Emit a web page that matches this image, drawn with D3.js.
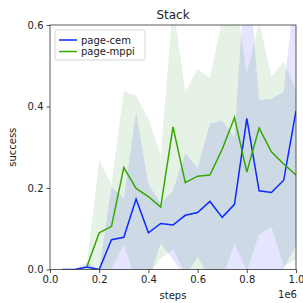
<!DOCTYPE html>
<html><head><meta charset="utf-8">
<script src="https://cdn.jsdelivr.net/npm/d3@7"></script>
<style>body{margin:0;background:#fff}svg{display:block}text{font-family:"DejaVu Sans",sans-serif;fill:#222}</style>
</head><body><svg id="c" width="303" height="303"></svg>
<script>
const steps = [0.05,0.1,0.15,0.2,0.25,0.3,0.35,0.4,0.45,0.5,0.55,0.6,0.65,0.7,0.75,0.8,0.85,0.9,0.95,1.0];
const cemMean = [0,0,0.006,0,0.073,0.079,0.173,0.09,0.113,0.109,0.133,0.14,0.167,0.128,0.16,0.371,0.193,0.189,0.219,0.389];
const cemStd  = [0,0,0.012,0,0.13,0.096,0.212,0.12,0.049,0.085,0.152,0.109,0.191,0.237,0.165,0.42,0.223,0.23,0.217,0.33];
const mppiSteps = [0.15,0.2,0.25,0.3,0.35,0.4,0.45,0.5,0.55,0.6,0.65,0.7,0.75,0.8,0.85,0.9,0.95,1.0];
const mppiMean = [0.007,0.09,0.106,0.25,0.199,0.179,0.153,0.35,0.213,0.229,0.232,0.295,0.373,0.239,0.347,0.289,0.259,0.232];
const mppiStd  = [0.007,0.179,0.103,0.188,0.227,0.191,0.126,0.3,0.223,0.263,0.237,0.32,0.309,0.243,0.261,0.184,0.251,0.208];
const xTicks = [0,0.2,0.4,0.6,0.8,1.0];
const yTicks = [0,0.2,0.4,0.6];
const seriesNames = ["page-cem","page-mppi"];
const lineColors = ["#0a28ff","#33a800"];
const fillColors = ["#0000ff","#008000"];

const svg = d3.select("#c");
const L=50,R=296,T=25,B=269.5;
const x = d3.scaleLinear().domain([0,1]).range([L,R]);
const y = d3.scaleLinear().domain([0,0.6]).range([B,T]);

svg.append("defs").append("clipPath").attr("id","clip")
  .append("rect").attr("x",L).attr("y",T).attr("width",R-L).attr("height",B-T);

const series = [
  {name:seriesNames[0], xs:steps, m:cemMean, s:cemStd},
  {name:seriesNames[1], xs:mppiSteps, m:mppiMean, s:mppiStd}
];
const g = svg.append("g").attr("clip-path","url(#clip)");
series.forEach((S,i)=>{
  const pts = S.xs.map((v,j)=>({x:v,m:S.m[j],s:S.s[j]}));
  g.append("path").datum(pts)
    .attr("d", d3.area().x(d=>x(d.x)).y0(d=>y(d.m-d.s)).y1(d=>y(d.m+d.s)))
    .attr("fill",fillColors[i]).attr("fill-opacity",0.1);
});
series.forEach((S,i)=>{
  const pts = S.xs.map((v,j)=>({x:v,m:S.m[j]}));
  g.append("path").datum(pts)
    .attr("d", d3.line().x(d=>x(d.x)).y(d=>y(d.m)))
    .attr("fill","none").attr("stroke",lineColors[i]).attr("stroke-width",1.5);
});

// axes
const xa = svg.append("g").attr("transform",`translate(0,${B})`)
  .call(d3.axisBottom(x).tickValues(xTicks).tickFormat(d3.format(".1f")).tickSize(3.5).tickPadding(3));
const ya = svg.append("g").attr("transform",`translate(${L},0)`)
  .call(d3.axisLeft(y).tickValues(yTicks).tickFormat(d3.format(".1f")).tickSize(3.5).tickPadding(3));
[xa,ya].forEach(a=>{
  a.selectAll("text").attr("font-size",10).style("fill","#222").attr("font-family","DejaVu Sans");
  a.selectAll("line").attr("stroke","#222").attr("stroke-width",0.8);
  a.select(".domain").remove();
});
svg.append("rect").attr("x",L).attr("y",T).attr("width",R-L).attr("height",B-T)
  .attr("fill","none").attr("stroke","#333").attr("stroke-width",0.8);

svg.append("text").attr("x",(L+R)/2).attr("y",19).attr("text-anchor","middle").attr("font-size",12).text("Stack");
svg.append("text").attr("x",(L+R)/2).attr("y",299).attr("text-anchor","middle").attr("font-size",10).text("steps");
svg.append("text").attr("x",R+1).attr("y",298).attr("text-anchor","end").attr("font-size",10).text("1e6");
svg.append("text").attr("transform",`translate(16,${(T+B)/2}) rotate(-90)`).attr("text-anchor","middle").attr("font-size",10).text("success");

// legend
const lg = svg.append("g");
lg.append("rect").attr("x",55).attr("y",30).attr("width",90).attr("height",30).attr("rx",2)
  .attr("fill","#fff").attr("fill-opacity",0.8).attr("stroke","#ccc").attr("stroke-width",0.8);
seriesNames.forEach((n,i)=>{
  const yy = 40 + i*11.5;
  lg.append("line").attr("x1",59).attr("x2",77).attr("y1",yy).attr("y2",yy).attr("stroke",lineColors[i]).attr("stroke-width",1.5);
  lg.append("text").attr("x",81).attr("y",yy+3.5).attr("font-size",10).text(n);
});
</script></body></html>
